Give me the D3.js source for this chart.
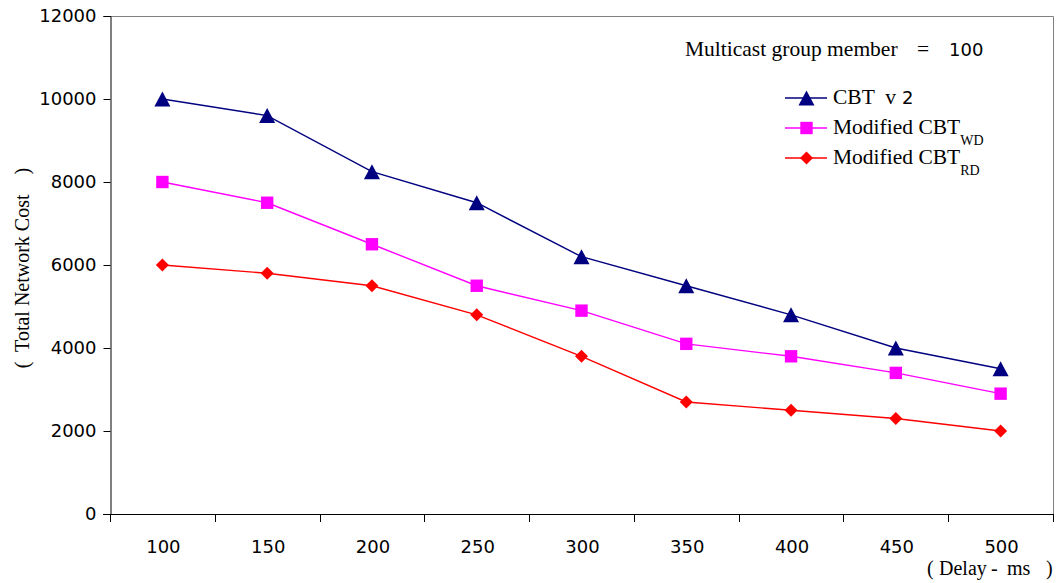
<!DOCTYPE html>
<html>
<head>
<meta charset="utf-8">
<script src="https://cdn.jsdelivr.net/npm/d3@7"></script>
<style>
  html, body { margin: 0; padding: 0; background: #fff; }
  svg { display: block; }
</style>
</head>
<body>
<svg id="chart" width="1062" height="583"></svg>
<script>
// Delay categories (ms) along the x axis
const delays = ["100", "150", "200", "250", "300", "350", "400", "450", "500"];
// Total network cost for each protocol
const cbtV2 = [10000, 9600, 8250, 7500, 6200, 5500, 4800, 4000, 3500];
const cbtWD = [8000, 7500, 6500, 5500, 4900, 4100, 3800, 3400, 2900];
const cbtRD = [6000, 5800, 5500, 4800, 3800, 2700, 2500, 2300, 2000];
const yTicks = [0, 2000, 4000, 6000, 8000, 10000, 12000];

// Marker shapes (size = half extent in px)
const triangleMark = {
  draw(ctx, r) { ctx.moveTo(0, -r); ctx.lineTo(r * 1.07, r); ctx.lineTo(-r * 1.07, r); ctx.closePath(); }
};
const squareMark = {
  draw(ctx, r) { ctx.rect(-r, -r, 2 * r, 2 * r); }
};
const diamondMark = {
  draw(ctx, r) { ctx.moveTo(0, -r); ctx.lineTo(r, 0); ctx.lineTo(0, r); ctx.lineTo(-r, 0); ctx.closePath(); }
};

const series = [
  { key: "v2", values: cbtV2, color: "#000080", marker: triangleMark, size: 7.5 },
  { key: "WD", values: cbtWD, color: "#FF00FF", marker: squareMark, size: 6.2 },
  { key: "RD", values: cbtRD, color: "#FF0000", marker: diamondMark, size: 6.5 }
];

const svg = d3.select("#chart");
const plotLeft = 110, plotRight = 1053, plotTop = 16, plotBottom = 514;

const x = d3.scaleBand().domain(delays).range([plotLeft, plotRight]).padding(0);
const y = d3.scaleLinear().domain([0, 12000]).range([plotBottom, plotTop]);

const sans = "'DejaVu Sans', Verdana, sans-serif";
const serif = "'Liberation Serif', 'Times New Roman', serif";

// Plot area frame (top and right edges)
svg.append("path")
  .attr("d", `M${plotLeft},${plotTop + 0.5}H${plotRight + 0.5}V${plotBottom}`)
  .attr("fill", "none").attr("stroke", "#808080").attr("stroke-width", 1);

// Y axis
const yAxis = svg.append("g")
  .attr("transform", `translate(${plotLeft + 0.5},0)`)
  .call(d3.axisLeft(y).tickValues(yTicks).tickSize(7).tickPadding(7).tickFormat(d3.format("d")));
yAxis.selectAll("text").attr("font-family", sans).attr("font-size", 18).attr("fill", "#000");
yAxis.selectAll("line, path").attr("stroke", "#000");

// X axis: ticks sit on category boundaries
const boundaries = delays.map(d => x(d)).concat([plotRight]);
const xAxisG = svg.append("g");
xAxisG.append("line")
  .attr("x1", plotLeft - 7).attr("x2", plotRight + 0.5)
  .attr("y1", plotBottom + 0.5).attr("y2", plotBottom + 0.5)
  .attr("stroke", "#000");
xAxisG.selectAll("line.tick").data(boundaries).join("line")
  .attr("class", "tick")
  .attr("x1", d => Math.round(d) + 0.5).attr("x2", d => Math.round(d) + 0.5)
  .attr("y1", plotBottom).attr("y2", plotBottom + 8)
  .attr("stroke", "#000");
xAxisG.selectAll("text").data(delays).join("text")
  .attr("x", d => x(d) + x.bandwidth() / 2 + 1)
  .attr("y", 553)
  .attr("text-anchor", "middle")
  .attr("font-family", sans).attr("font-size", 18).attr("fill", "#000")
  .text(d => d);

// X axis title, pieces spaced out as in the original layout
const xTitle = svg.append("text")
  .attr("y", 575)
  .attr("font-family", serif).attr("font-size", 20).attr("fill", "#000");
[["(", 927], ["Delay", 939], ["-", 991], ["ms", 1007], [")", 1046]].forEach(([s, px]) => {
  xTitle.append("tspan").attr("x", px).text(s);
});

// Y axis title
svg.append("text")
  .attr("transform", "translate(29,268) rotate(-90)")
  .attr("text-anchor", "middle")
  .attr("font-family", serif).attr("font-size", 20).attr("fill", "#000")
  .attr("xml:space", "preserve")
  .text("(  Total Network Cost    )");

// Series lines and markers
const line = d3.line()
  .x((d, i) => x(delays[i]) + x.bandwidth() / 2)
  .y(d => y(d));

series.forEach(s => {
  svg.append("path")
    .datum(s.values)
    .attr("d", line)
    .attr("fill", "none")
    .attr("stroke", s.color)
    .attr("stroke-width", 1.4);
  const sym = d3.symbol().type(s.marker).size(s.size);
  svg.selectAll(null).data(s.values).join("path")
    .attr("transform", (d, i) => `translate(${x(delays[i]) + x.bandwidth() / 2},${y(d)})`)
    .attr("d", sym)
    .attr("fill", s.color);
});

// Group size note
const note = svg.append("text")
  .attr("y", 56)
  .attr("font-family", serif).attr("font-size", 21.5).attr("fill", "#000");
note.append("tspan").attr("x", 685).text("Multicast group member");
note.append("tspan").attr("x", 917).text("=");
note.append("tspan").attr("x", 949).attr("font-family", sans).attr("font-size", 18).text("100");

// Legend
const legendY = [98, 128, 158];
series.forEach((s, i) => {
  const ly = legendY[i];
  svg.append("line")
    .attr("x1", 785).attr("x2", 827).attr("y1", ly).attr("y2", ly)
    .attr("stroke", s.color).attr("stroke-width", 1.4);
  svg.append("path")
    .attr("transform", `translate(806.5,${ly})`)
    .attr("d", d3.symbol().type(s.marker).size(s.size))
    .attr("fill", s.color);
  const t = svg.append("text")
    .attr("x", 833).attr("y", ly + 6)
    .attr("font-family", serif).attr("font-size", 21.5).attr("fill", "#000")
    .attr("xml:space", "preserve");
  if (s.key === "v2") {
    t.append("tspan").text("CBT  v");
    t.append("tspan").attr("x", 902).attr("font-family", sans).attr("font-size", 18).text("2");
  } else {
    t.append("tspan").text("Modified CBT");
    t.append("tspan").attr("dy", 11).attr("font-size", 14).text(s.key);
  }
});
</script>
</body>
</html>
